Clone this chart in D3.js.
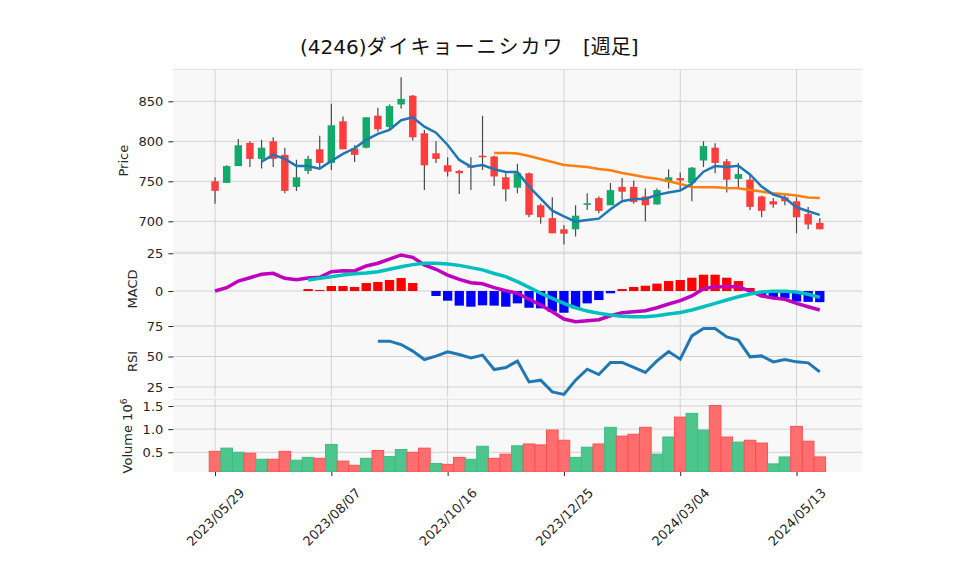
<!DOCTYPE html>
<html><head><meta charset="utf-8">
<script src="https://cdn.jsdelivr.net/npm/d3@7"></script>
<style>body{margin:0;background:#fff}</style>
</head><body><svg id="c" width="958" height="575"></svg>
<script>
// ---- data (weekly) ----
const tickIdx = [0,10,20,30,40,50];
const tickLabels = ["2023/05/29","2023/08/07","2023/10/16","2023/12/25","2024/03/04","2024/05/13"];
const open  = [750,748,769,798,778,800,783,743,763,790,773,825,791,792,832,818,846,857,810,785,770,763,769,782,781,755,742,760,720,704,690,690,720.5,729,720,743,743,731,721,749,754,748,776,792,775,753,752,731,725,730,725,709,698];
const high  = [755,770,803,800,802,805,792,777,782,807,847,831,795,830,842,846,880,858,814,800,780,764,780,832,782,760,772,761,722,730,695,720,735,731,748,754,751,741,741,765,761,768,800,797.5,778,773,758,732,729,733,730,718,704];
const low   = [722,748,769,768,766,768,735,738,759,766,764,790,774,791,812,814,841,801,739,773,756,734,739,764,744,725,735,705,697,685,671,681,714,710,720,727,722,700,721,741,740,725,768,760,736,741,714,705,717,720,685,690,690];
const close = [738,769,795,778,792,778,738,755,778,773,820,790,783,830,815,844,853,805,770,778,762,760,767,780,756,740,760,708,705,685,684.5,707,722.5,713,739,737,724,720,739,755,751,767,794,773,752,759,718,713,721,725,705,696,690];
const volume = [0.52,0.59,0.50,0.48,0.35,0.35,0.52,0.33,0.39,0.37,0.67,0.31,0.22,0.37,0.54,0.41,0.56,0.50,0.59,0.26,0.24,0.39,0.35,0.63,0.37,0.46,0.64,0.68,0.66,0.98,0.76,0.39,0.61,0.68,1.04,0.85,0.89,1.04,0.46,0.83,1.26,1.34,0.98,1.51,0.83,0.72,0.76,0.70,0.25,0.40,1.06,0.74,0.40];
const ma5Start = 4;
const ma5 = [774.6,783,778,769.2,769.2,765.8,775.4,784.2,791.3,801.7,809.2,814.2,826.3,830,818.3,810.8,795.4,776.7,768.3,770.4,765,761.7,761.7,743.3,728.3,713.3,706,699.6,701.7,703.3,715,725,727.9,728,733,736,738.5,747,762,769,768,769.5,758.5,743.3,733.5,729,717.5,712.5,708];
const ma25Start = 24;
const ma25 = [785.4,785.4,784.6,781.7,777.9,774.2,770.4,769.2,767.9,765.4,763.8,760.4,757.9,755,753.3,750,746.7,742.9,742.5,742.5,741.7,741.3,739.2,737.1,735,733.8,732.1,729.6,729.2];
const macd = [0,2.2,6.6,8.8,11.1,11.7,8.4,7.5,8.6,9.1,12.8,13.5,13.3,16.6,18.4,21.2,23.9,22.3,17.3,14.4,10.6,7.7,5.5,4.8,2.2,0.2,-1.5,-5.5,-9.3,-13.7,-18.6,-20.4,-19.7,-19,-16.4,-14.4,-13.7,-13.1,-11.1,-8.6,-6.4,-3.3,1.5,2.9,2.9,2.9,0,-3.3,-4.6,-5.5,-8.2,-10.4,-12.6];
const sigStart = 8;
const signal = [7.3,8.4,9.5,10.6,11.5,11.9,12.8,14.4,16.1,17.5,18.4,18.4,17.9,17,15.5,14,11.6,9.5,6.2,2.4,-1.5,-4.9,-8.2,-11.1,-13.3,-14.8,-15.9,-16.8,-17,-17,-16.4,-15.3,-14.2,-12.6,-10.4,-8.2,-6,-3.8,-2,-0.7,-0.2,-0.2,-0.7,-2.2,-4.2];
const hist = [1.3,0.7,3.3,3.3,2.7,5.3,6,7.3,8.6,5.3,0,-3.3,-6.4,-9.7,-10.4,-9.5,-9.7,-10.4,-8.2,-11.1,-11.5,-13.7,-14.4,-11.5,-8.2,-6,-1.5,1.3,2.7,3.5,4.9,6.6,7.3,8.8,10.8,10.8,8.8,6.6,2,-2.6,-4.2,-4.9,-7,-7.2,-7.4];
const rsiStart = 14;
const rsi = [62.6,62.6,59.8,54.4,47.5,50.3,53.8,51.6,48.9,51.1,39.3,41,46.2,29.2,30.6,21,18.9,30.6,39.6,35.2,45.1,45.1,41,36.9,46.4,54.1,47.8,66.9,72.9,72.9,66.1,63.4,49.7,50.5,45.6,47.5,45.6,44.8,37.4];
const priceTicks = [700,750,800,850];
const macdTicks = [0,25];
const rsiTicks = [25,50,75];
const volTicks = [0.5,1.0,1.5];

// ---- layout ----
const svg = d3.select("#c");
const L = 173.3, R = 862;
const x = d3.scaleLinear().domain([-3.59,55.63]).range([L,R]);
const step = x(1)-x(0);
const font = "DejaVu Sans, sans-serif";
const panels = [
  {key:"price", top:69.3, bottom:252, domain:[661.6,890], ticks:priceTicks, fmt:d=>d, label:"Price", lx:123},
  {key:"macd", top:252, bottom:326, domain:[-23.2,25.86], ticks:macdTicks, fmt:d=>d, label:"MACD", lx:132},
  {key:"rsi", top:326, bottom:397, domain:[16.8,75], ticks:rsiTicks, fmt:d=>d, label:"RSI", lx:132},
  {key:"vol", top:399, bottom:472, domain:[0.075,1.651], ticks:volTicks, fmt:d3.format(".1f"), label:null, lx:127}
];
const Y = {};
panels.forEach(p=>{
  const y = d3.scaleLinear().domain(p.domain).range([p.bottom,p.top]);
  Y[p.key]=y;
  const g = svg.append("g");
  g.append("rect").attr("x",L).attr("y",p.top).attr("width",R-L).attr("height",p.bottom-p.top).attr("fill","#f8f8f8");
  g.selectAll(".hg").data(p.ticks).join("line").attr("x1",L).attr("x2",R)
    .attr("y1",d=>y(d)).attr("y2",d=>y(d)).attr("stroke","#d2d2d2").attr("stroke-width",1);
  g.selectAll(".vg").data(tickIdx).join("line").attr("y1",p.top).attr("y2",p.bottom)
    .attr("x1",d=>x(d)).attr("x2",d=>x(d)).attr("stroke","#d2d2d2").attr("stroke-width",1);
  g.append("line").attr("x1",L).attr("x2",R).attr("y1",p.top).attr("y2",p.top).attr("stroke","#dedede");
  const ax = svg.append("g").attr("transform",`translate(${L},0)`)
    .call(d3.axisLeft(y).tickValues(p.ticks).tickFormat(p.fmt).tickSize(5).tickPadding(5));
  ax.select(".domain").remove();
  ax.selectAll("text").attr("font-family",font).attr("font-size",13).attr("fill","#262626");
  ax.selectAll("line").attr("stroke","#262626");
  if(p.label){
    svg.append("text").attr("transform",`translate(${p.lx},${(p.top+p.bottom)/2}) rotate(-90)`)
      .attr("text-anchor","middle").attr("dy","0.35em").attr("font-family",font).attr("font-size",13)
      .attr("fill","#262626").text(p.label);
  }
});
const vl = svg.append("text").attr("transform",`translate(127,436) rotate(-90)`).attr("text-anchor","middle")
  .attr("dy","0.35em").attr("font-family",font).attr("font-size",13).attr("fill","#262626");
vl.append("tspan").text("Volume  10");
vl.append("tspan").attr("dy","-0.5em").attr("font-size",9).text("6");

panels.forEach(p=>{
  svg.append("clipPath").attr("id","clip-"+p.key).append("rect")
    .attr("x",L).attr("y",p.top).attr("width",R-L).attr("height",p.bottom-p.top);
});

// ---- candles ----
const idx = d3.range(close.length);
const yp = Y.price;
const up = "#13a96a", dn = "#ff3d3d";
const cg = svg.append("g").attr("clip-path","url(#clip-price)");
cg.selectAll(".wick").data(idx).join("line")
  .attr("x1",i=>x(i)).attr("x2",i=>x(i)).attr("y1",i=>yp(high[i])).attr("y2",i=>yp(low[i]))
  .attr("stroke","#4a4a4a").attr("stroke-width",1.2);
cg.selectAll(".body").data(idx).join("rect")
  .attr("x",i=>x(i)-step*0.32).attr("width",step*0.64)
  .attr("y",i=>yp(Math.max(open[i],close[i])))
  .attr("height",i=>Math.max(1,Math.abs(yp(open[i])-yp(close[i]))))
  .attr("fill",i=>close[i]>=open[i]?up:dn);

const lineGen = (ys, start) => d3.line().x((d,k)=>x(start+k)).y(d=>ys(d));
cg.append("path").datum(ma25).attr("d",lineGen(yp,ma25Start)).attr("fill","none").attr("stroke","#ff7f0e").attr("stroke-width",2.5);
cg.append("path").datum(ma5).attr("d",lineGen(yp,ma5Start)).attr("fill","none").attr("stroke","#1f77b4").attr("stroke-width",2.5);

// ---- MACD ----
const ym = Y.macd;
const mg = svg.append("g").attr("clip-path","url(#clip-macd)");
mg.selectAll(".h").data(hist).join("rect")
  .attr("x",(d,k)=>x(sigStart+k)-step*0.4).attr("width",step*0.8)
  .attr("y",d=>ym(Math.max(0,d))).attr("height",d=>Math.abs(ym(d)-ym(0)))
  .attr("fill",d=>d>=0?"#ff0000":"#0000ff");
mg.append("path").datum(macd).attr("d",lineGen(ym,0)).attr("fill","none").attr("stroke","#bf00bf").attr("stroke-width",3.5);
mg.append("path").datum(signal).attr("d",lineGen(ym,sigStart)).attr("fill","none").attr("stroke","#00bfbf").attr("stroke-width",3.5);

// ---- RSI ----
const yr = Y.rsi;
svg.append("g").attr("clip-path","url(#clip-rsi)").append("path").datum(rsi)
  .attr("d",lineGen(yr,rsiStart)).attr("fill","none").attr("stroke","#1f77b4").attr("stroke-width",3);

// ---- Volume ----
const yv = Y.vol;
svg.append("g").attr("clip-path","url(#clip-vol)").selectAll("rect").data(idx).join("rect")
  .attr("x",i=>x(i)-step/2).attr("width",step)
  .attr("y",i=>yv(volume[i])).attr("height",i=>yv.range()[0]-yv(volume[i]))
  .attr("fill",i=>(i>0&&close[i]>=close[i-1])?"#4cc68c":"#ff6e6e")
  .attr("stroke",i=>(i>0&&close[i]>=close[i-1])?"#3dbd80":"#ff5050").attr("stroke-width",1);

// ---- x axis ----
const xa = svg.append("g").attr("transform","translate(0,472)")
  .call(d3.axisBottom(x).tickValues(tickIdx).tickFormat((d,k)=>tickLabels[k]).tickSize(4).tickPadding(3));
xa.select(".domain").remove();
xa.selectAll("line").attr("stroke","#262626");
xa.selectAll("text").attr("font-family",font).attr("font-size",13).attr("fill","#262626")
  .attr("text-anchor","middle").attr("y",0).attr("x",0).attr("dy","0.35em")
  .attr("transform","translate(0,45) rotate(-45)");

// ---- title ----
const t = svg.append("text").attr("x",300).attr("y",54).attr("font-size",20).attr("fill","#111");
t.append("tspan").attr("font-family",font).text("(4246)");
t.append("tspan").attr("font-family","Noto Sans CJK JP").attr("letter-spacing","2").text("ダイキョーニシカワ");
t.append("tspan").attr("x",583).attr("font-family",font).text("[");
t.append("tspan").attr("font-family","Noto Sans CJK JP").text("週足");
t.append("tspan").attr("font-family",font).text("]");
</script></body></html>
